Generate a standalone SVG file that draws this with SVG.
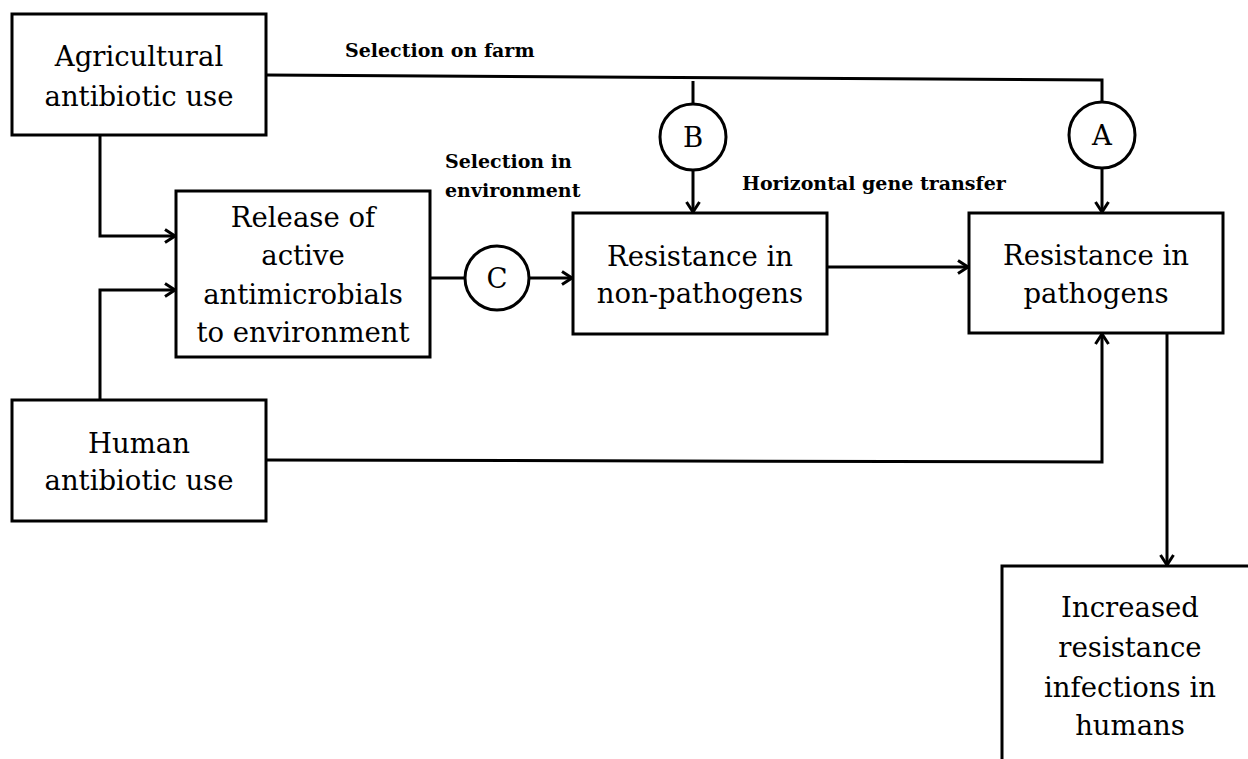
<svg xmlns="http://www.w3.org/2000/svg" width="1248" height="759" viewBox="0 0 1248 759">
<style>
.box{fill:#fff;stroke:#000;stroke-width:3}
.circ{fill:#fff;stroke:#000;stroke-width:3}
.t{font-family:"DejaVu Serif","Liberation Serif",serif;font-size:27.5px;fill:#000;text-anchor:middle}
.lbl{font-family:"DejaVu Serif","Liberation Serif",serif;font-size:19px;font-weight:bold;fill:#000}
.ln{fill:none;stroke:#000;stroke-width:3}
.arr{marker-end:url(#ah)}
</style>
<defs>
<marker id="ah" viewBox="0 0 14 16" refX="13" refY="8" markerWidth="14" markerHeight="16" markerUnits="userSpaceOnUse" orient="auto">
<path d="M2,1.5 L12,8 L2,14.5" fill="none" stroke="#000" stroke-width="3"/>
</marker>
</defs>
<rect width="1248" height="759" fill="#fff"/>
<g id="connectors">
<path class="ln" d="M266,75 L1102,80 L1102,102"/>
<path class="ln" d="M693,81 L693,104"/>
<path class="ln arr" d="M693,170 L693,213"/>
<path class="ln arr" d="M1102,168 L1102,213"/>
<path class="ln" d="M430,278 L465,278"/>
<path class="ln arr" d="M529,278 L573,278"/>
<path class="ln arr" d="M827,267 L969,267"/>
<path class="ln arr" d="M100,135 L100,236 L176,236"/>
<path class="ln arr" d="M100,400 L100,290 L176,290"/>
<path class="ln arr" d="M266,460 L1102,462 L1102,333"/>
<path class="ln arr" d="M1167,333 L1167,566"/>
<text class="lbl" x="345" y="57">Selection on farm</text>
<text class="lbl" x="445" y="168">Selection in</text>
<text class="lbl" x="445" y="197">environment</text>
<text class="lbl" x="742" y="190">Horizontal gene transfer</text>
</g>
<g id="agri">
<rect class="box" x="12" y="14" width="254" height="121"/>
<text class="t" x="139" y="66">Agricultural</text>
<text class="t" x="139" y="106">antibiotic use</text>
</g>
<g id="human">
<rect class="box" x="12" y="400" width="254" height="121"/>
<text class="t" x="139" y="453">Human</text>
<text class="t" x="139" y="490">antibiotic use</text>
</g>
<g id="release">
<rect class="box" x="176" y="191" width="254" height="166"/>
<text class="t" x="303" y="227">Release of</text>
<text class="t" x="303" y="265">active</text>
<text class="t" x="303" y="304">antimicrobials</text>
<text class="t" x="303" y="342">to environment</text>
</g>
<g id="nonpath">
<rect class="box" x="573" y="213" width="254" height="121"/>
<text class="t" x="700" y="266">Resistance in</text>
<text class="t" x="700" y="303">non-pathogens</text>
</g>
<g id="path">
<rect class="box" x="969" y="213" width="254" height="120"/>
<text class="t" x="1096" y="265">Resistance in</text>
<text class="t" x="1096" y="303">pathogens</text>
</g>
<g id="infections">
<rect class="box" x="1002" y="566" width="270" height="220"/>
<text class="t" x="1130" y="617">Increased</text>
<text class="t" x="1130" y="657">resistance</text>
<text class="t" x="1130" y="697">infections in</text>
<text class="t" x="1130" y="735">humans</text>
</g>
<g id="circleA">
<circle class="circ" cx="1102" cy="135" r="33"/>
<text class="t" x="1102" y="145">A</text>
</g>
<g id="circleB">
<circle class="circ" cx="693" cy="137" r="33"/>
<text class="t" x="693" y="147">B</text>
</g>
<g id="circleC">
<circle class="circ" cx="497" cy="278" r="32"/>
<text class="t" x="497" y="288">C</text>
</g>
</svg>
